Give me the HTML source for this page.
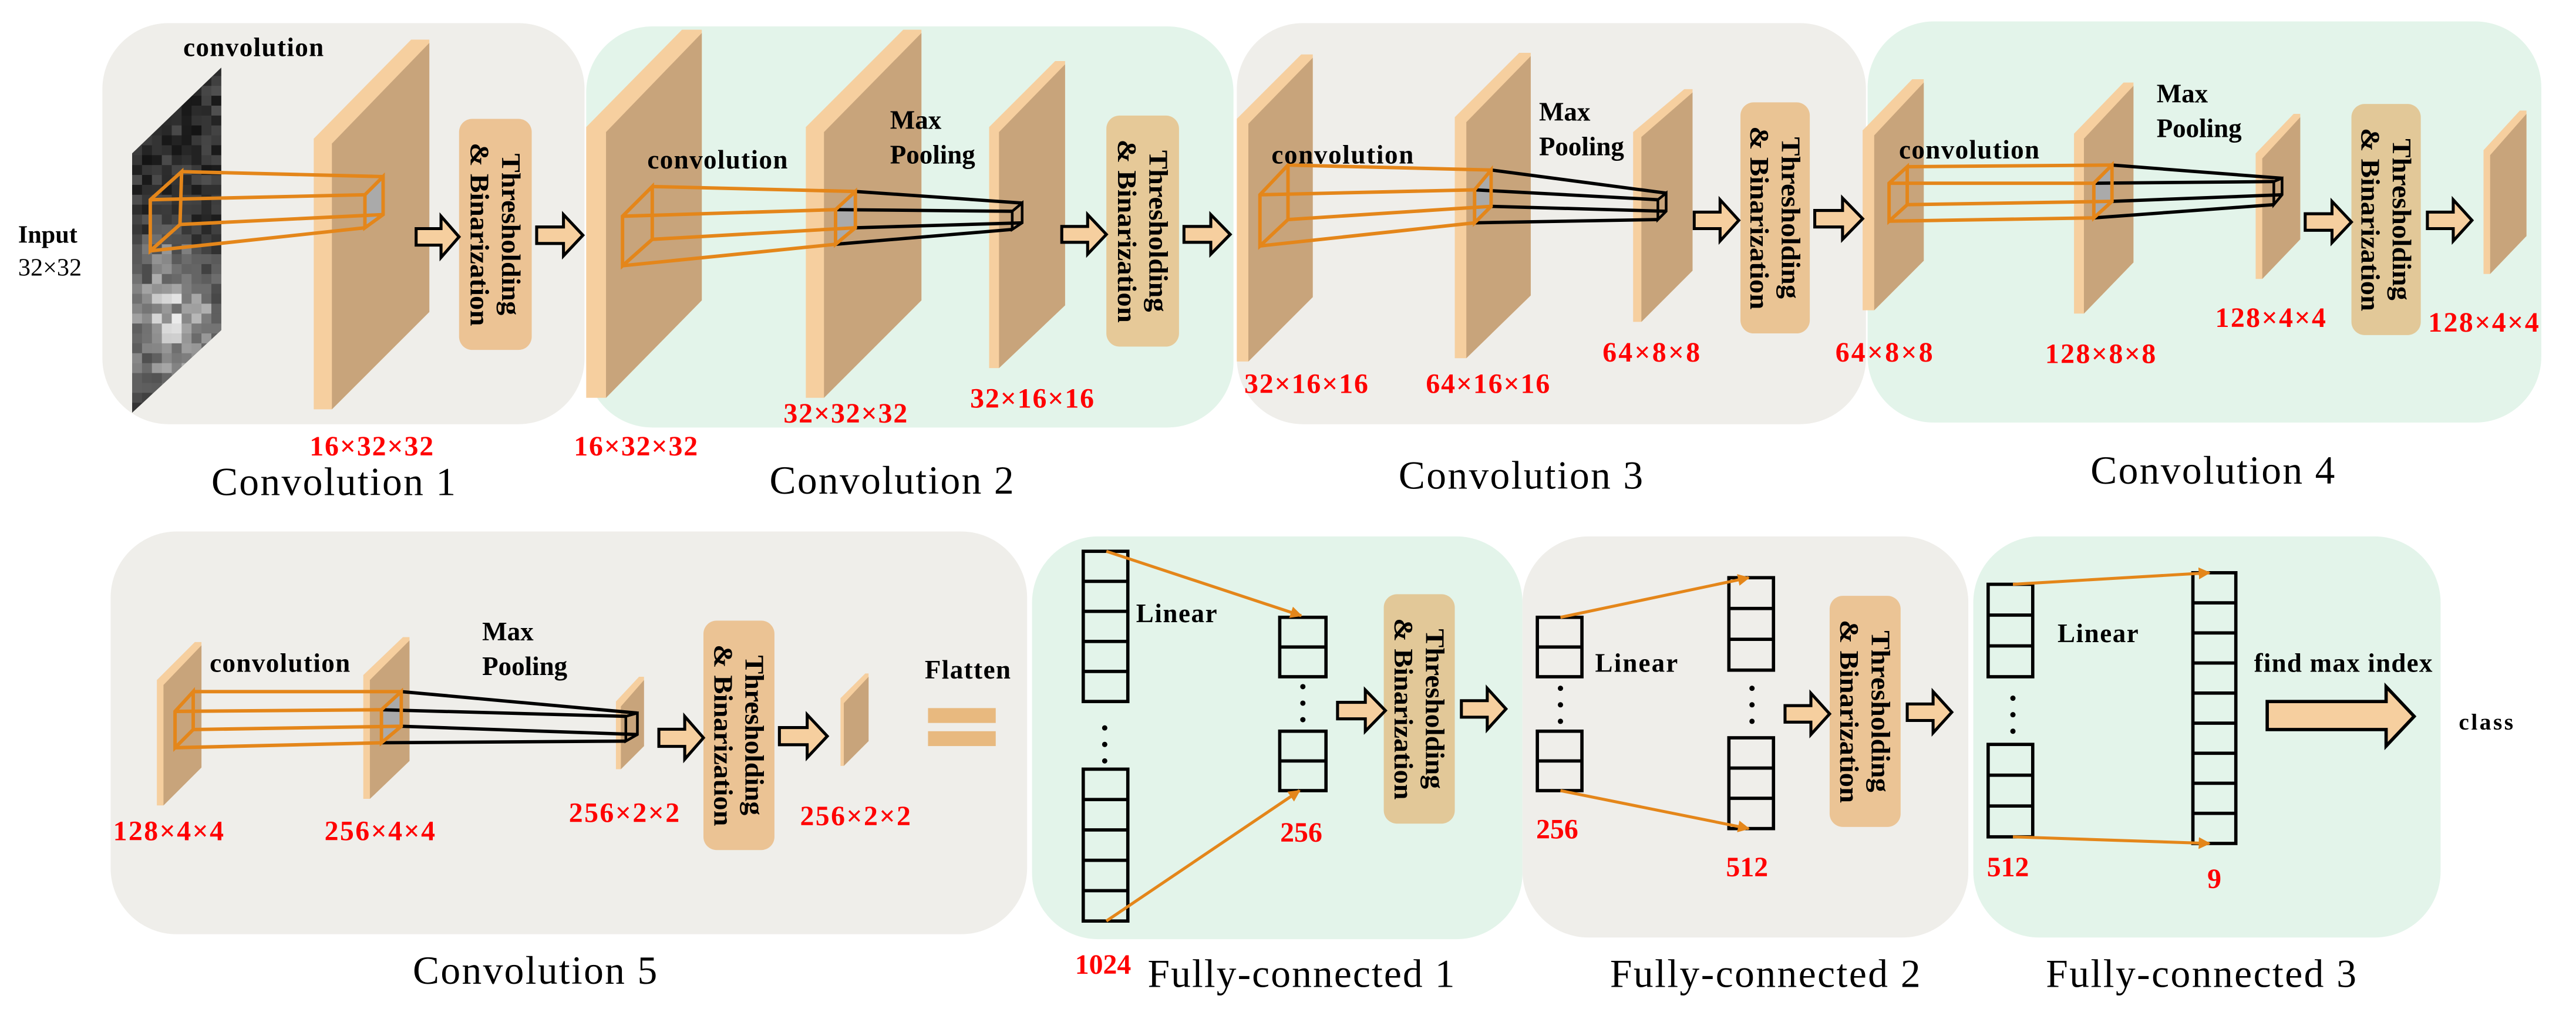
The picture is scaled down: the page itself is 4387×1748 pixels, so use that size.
<!DOCTYPE html>
<html><head><meta charset="utf-8"><style>
html,body{margin:0;padding:0;background:#fff}
svg{display:block}
text{font-family:"Liberation Serif","Times New Roman",serif}
.b{font-weight:bold;font-size:16px;fill:#000}
.r{font-weight:bold;font-size:17px;fill:#f00;text-anchor:middle}
.c{font-size:24px;fill:#000;text-anchor:middle}
.tb{font-weight:bold;font-size:16px;fill:#000;text-anchor:middle}
</style></head><body>
<svg id="s" width="4387" height="1748" viewBox="0 0 1560 621.6" preserveAspectRatio="none" xmlns="http://www.w3.org/2000/svg">
<defs>
<marker id="ah" viewBox="0 0 10 10" refX="9" refY="5" markerWidth="4" markerHeight="4" orient="auto"><path d="M0,0 L10,5 L0,10 Z" fill="#e4861a"/></marker>
<clipPath id="inclip"><polygon points="80,93 134,41 134,200 80,250"/></clipPath>
</defs>
<!-- panels -->
<rect x="62" y="14" width="292" height="243" rx="40" fill="#efeeea"/>
<rect x="355" y="16" width="392" height="243" rx="40" fill="#e3f4ea"/>
<rect x="749" y="14" width="381" height="243" rx="40" fill="#efeeea"/>
<rect x="1131" y="13" width="408" height="243" rx="40" fill="#e3f4ea"/>
<rect x="67" y="322" width="555" height="244" rx="40" fill="#efeeea"/>
<rect x="625" y="325" width="297" height="244" rx="40" fill="#e3f4ea"/>
<rect x="922" y="325" width="270" height="243" rx="40" fill="#efeeea"/>
<rect x="1195" y="325" width="283" height="243" rx="40" fill="#e3f4ea"/>
<!-- input image -->
<g clip-path="url(#inclip)" id="inimg">
<rect x="78" y="38" width="60" height="215" fill="#1a1a1a"/>
</g>
<g id="shapes"></g>
<!-- texts -->
<text class="b" x="111" y="34" textLength="85">convolution</text>
<text x="11" y="147" style="font-weight:bold;font-size:15px">Input</text>
<text x="11" y="167" style="font-size:15px">32×32</text>
<text class="b" x="392" y="102" textLength="85">convolution</text>
<text class="b" x="539" y="78">Max</text><text class="b" x="539" y="99">Pooling</text>
<text class="b" x="770" y="99" textLength="86">convolution</text>
<text class="b" x="932" y="73">Max</text><text class="b" x="932" y="94">Pooling</text>
<text class="b" x="1150" y="96" textLength="85">convolution</text>
<text class="b" x="1306" y="62">Max</text><text class="b" x="1306" y="83">Pooling</text>
<text class="b" x="127" y="407" textLength="85">convolution</text>
<text class="b" x="292" y="388">Max</text><text class="b" x="292" y="409">Pooling</text>
<text class="b" x="560" y="411" textLength="52">Flatten</text>
<text class="b" x="688" y="377" textLength="49">Linear</text>
<text class="b" x="966" y="407" textLength="50">Linear</text>
<text class="b" x="1246" y="389" textLength="49">Linear</text>
<text class="b" x="1365" y="407" textLength="108">find max index</text>
<text x="1489" y="442" style="font-weight:bold;font-size:14px" textLength="33">class</text>

<text class="r" x="225" y="276" textLength="75">16×32×32</text>
<text class="r" x="385" y="276" textLength="75">16×32×32</text>
<text class="r" x="512" y="256" textLength="75">32×32×32</text>
<text class="r" x="625" y="247" textLength="75">32×16×16</text>
<text class="r" x="791" y="238" textLength="75">32×16×16</text>
<text class="r" x="901" y="238" textLength="75">64×16×16</text>
<text class="r" x="1000" y="219" textLength="59">64×8×8</text>
<text class="r" x="1141" y="219" textLength="59">64×8×8</text>
<text class="r" x="1272" y="220" textLength="67">128×8×8</text>
<text class="r" x="1375" y="198" textLength="67">128×4×4</text>
<text class="r" x="1504" y="201" textLength="67">128×4×4</text>
<text class="r" x="102" y="509" textLength="67">128×4×4</text>
<text class="r" x="230" y="509" textLength="67">256×4×4</text>
<text class="r" x="378" y="498" textLength="67">256×2×2</text>
<text class="r" x="518" y="500" textLength="67">256×2×2</text>
<text class="r" x="788" y="510">256</text>
<text class="r" x="668" y="590">1024</text>
<text class="r" x="943" y="508">256</text>
<text class="r" x="1058" y="531">512</text>
<text class="r" x="1216" y="531">512</text>
<text class="r" x="1341" y="538">9</text>

<text class="c" x="202" y="300" textLength="148">Convolution 1</text>
<text class="c" x="540" y="299" textLength="148">Convolution 2</text>
<text class="c" x="921" y="296" textLength="148">Convolution 3</text>
<text class="c" x="1340" y="293" textLength="148">Convolution 4</text>
<text class="c" x="324" y="596" textLength="148">Convolution 5</text>
<text class="c" x="788" y="598" textLength="186">Fully-connected 1</text>
<text class="c" x="1069" y="598" textLength="188">Fully-connected 2</text>
<text class="c" x="1333" y="598" textLength="188">Fully-connected 3</text>
<g id="tb"></g>
</svg>
<script>
var NS="http://www.w3.org/2000/svg";
var G=document.getElementById("shapes");
function add(tag,attrs,parent){var e=document.createElementNS(NS,tag);for(var k in attrs)e.setAttribute(k,attrs[k]);(parent||G).appendChild(e);return e;}
function pts(a){return a.map(function(p){return p[0]+","+p[1]}).join(" ");}
// input image texture
(function(){var IG=document.getElementById("inimg");var seed=7;function rnd(){seed=(seed*9301+49297)%233280;return seed/233280;}
 for(var i=0;i<9;i++)for(var j=0;j<36;j++){var x=80+i*6,y=40+j*6;
  var light=0;var dx=x-100,dy=y-190;var d=Math.sqrt(dx*dx*2+dy*dy);
  light=Math.max(0,1-d/70)*180;
  var v=Math.round(20+rnd()*60+light*(0.5+rnd()*0.6));if(v>235)v=235;
  add("rect",{x:x,y:y,width:6.2,height:6.2,fill:"rgb("+v+","+v+","+v+")"},IG);}
})();
// slabs
[[190,201,260,84,24,248,189],[355,367,425,77,18,241,182],[488,499,558,77,18,241,182],[599,605,645,77,37,223,185],
[749,756,795,72,33,219,180],[881,888,927,71,32,217,179],[989,994,1025,80,54,195,164],[1128,1135,1165,79,48,188,158],
[1256,1262,1292,81,50,190,159],[1366,1370,1393,93,69,169,145],[1504,1508,1530,91,67,166,143],
[95,99,122,412,389,488,465],[220,224,248,409,386,484,461],[373,376,390,425,410,466,452],[509,511,526,423,408,464,449]
].forEach(function(s){var e1=s[0],e2=s[1],f=s[2],tl=s[3],tr=s[4],bl=s[5],br=s[6],w=e2-e1;
 add("polygon",{points:pts([[e1,tl],[f-w,tr],[f,tr],[f,br],[e2,bl],[e1,bl]]),fill:"#f6cf9f"});
 add("polygon",{points:pts([[e2,tl+3],[f,tr+2],[f,br],[e2,bl]]),fill:"#c8a47b"});
});
// T&B boxes
[[278,322,72,212,"#ecc394"],[670,714,70,210,"#e6c998"],[1054,1096,62,202,"#eac494"],[1424,1466,63,203,"#e2c898"],
[426,469,376,515,"#ebc394"],[838,881,360,499,"#e2c898"],[1108,1151,361,501,"#ebc495"]].forEach(function(b){
 add("rect",{x:b[0],y:b[2],width:b[1]-b[0],height:b[3]-b[2],rx:8,fill:b[4]});
 var cx=(b[0]+b[1])/2,cy=(b[2]+b[3])/2,h=b[3]-b[2];
 var g=add("g",{transform:"translate("+cx+","+cy+") rotate(90)"},document.getElementById("tb"));
 var t1=add("text",{x:0,y:-4,"class":"tb",textLength:Math.round(h*0.7),lengthAdjust:"spacingAndGlyphs"},g);t1.textContent="Thresholding";
 var t2=add("text",{x:0,y:15,"class":"tb",textLength:Math.round(h*0.79),lengthAdjust:"spacingAndGlyphs"},g);t2.textContent="& Binarization";
});
// arrows
[[252,278,131,156],[325,353,130,155],[643,670,130,154],[717,745,130,154],[1026,1053,121,146],[1099,1128,120,145],
[1396,1424,122,147],[1470,1497,121,146],[399,426,434,460],[472,501,433,459],[810,839,418,443],[885,912,417,442],
[1081,1108,420,445],[1155,1182,419,444]].forEach(function(a){var x0=a[0],x1=a[1],y0=a[2],y1=a[3],H=y1-y0,W=x1-x0;
 var ya=y0+0.3*H,yb=y0+0.7*H,xm=x0+0.58*W,yc=(y0+y1)/2;
 add("polygon",{points:pts([[x0,ya],[xm,ya],[xm,y0],[x1,yc],[xm,y1],[xm,yb],[x0,yb]]),fill:"#f6cf9f",stroke:"#000","stroke-width":1.8,"stroke-linejoin":"miter"});
});
// big arrow
add("polygon",{points:pts([[1373,425],[1445,425],[1445,416],[1462,434],[1445,452],[1445,442],[1373,442]]),fill:"#f6cf9f",stroke:"#000","stroke-width":2});
// equals
add("rect",{x:562,y:429,width:41,height:9,fill:"#e8b97f"});
add("rect",{x:562,y:443,width:41,height:9,fill:"#e8b97f"});
// cones
function cone(L,R,P){
 add("polygon",{points:pts(R),fill:"#aaa",stroke:"none"});
 if(P){for(var i=0;i<4;i++)add("line",{x1:R[i][0],y1:R[i][1],x2:P[i][0],y2:P[i][1],stroke:"#000","stroke-width":2});
  add("polygon",{points:pts(P),fill:"none",stroke:"#000","stroke-width":1.6});}
 add("polygon",{points:pts(L),fill:"none",stroke:"#e4861a","stroke-width":2.1});
 add("polygon",{points:pts(R),fill:"none",stroke:"#e4861a","stroke-width":2.1});
 for(var i=0;i<4;i++)add("line",{x1:L[i][0],y1:L[i][1],x2:R[i][0],y2:R[i][1],stroke:"#e4861a","stroke-width":2.1});
}
cone([[110,104],[91,121],[91,152],[109,136]],[[232,107],[221,118],[221,138],[232,130]]);
cone([[395,113],[377,131],[377,161],[395,145]],[[518,116],[506,127],[506,148],[518,138]],[[619,123],[613,128],[613,139],[619,135]]);
cone([[780,100],[763,118],[763,149],[780,133]],[[903,103],[893,115],[893,135],[903,125]],[[1009,117],[1004,121],[1004,133],[1009,128]]);
cone([[1155,101],[1144,111],[1144,134],[1155,124]],[[1279,100],[1268,111],[1268,132],[1279,122]],[[1382,108],[1377,110],[1377,124],[1382,118]]);
cone([[117,419],[106,431],[106,453],[117,442]],[[243,419],[231,430],[231,450],[243,440]],[[386,432],[379,434],[379,449],[386,445]]);
// columns
function col(x0,x1,y0,y1,n){add("rect",{x:x0,y:y0,width:x1-x0,height:y1-y0,fill:"none",stroke:"#000","stroke-width":2});
 for(var i=1;i<n;i++){var y=y0+(y1-y0)*i/n;add("line",{x1:x0,y1:y,x2:x1,y2:y,stroke:"#000","stroke-width":2});}}
function dots(x,y){for(var i=0;i<3;i++)add("circle",{cx:x,cy:y+i*10,r:1.6,fill:"#000"});}
col(656,683,334,425,5);col(656,683,466,558,5);dots(669,441);
col(775,803,374,410,2);col(775,803,443,479,2);dots(789,416);
col(931,958,374,410,2);col(931,958,443,479,2);dots(945,417);
col(1047,1074,350,406,3);col(1047,1074,447,502,3);dots(1061,417);
col(1204,1231,354,410,3);col(1204,1231,451,507,3);dots(1219,423);
col(1328,1354,347,511,9);
function oa(x1,y1,x2,y2){add("line",{x1:x1,y1:y1,x2:x2,y2:y2,stroke:"#e4861a","stroke-width":1.8,"marker-end":"url(#ah)"});}
oa(670,334,788,373);oa(670,558,787,479);
oa(945,374,1059,350);oa(945,479,1059,502);
oa(1219,354,1338,347);oa(1219,507,1338,511);
</script>
</body></html>
